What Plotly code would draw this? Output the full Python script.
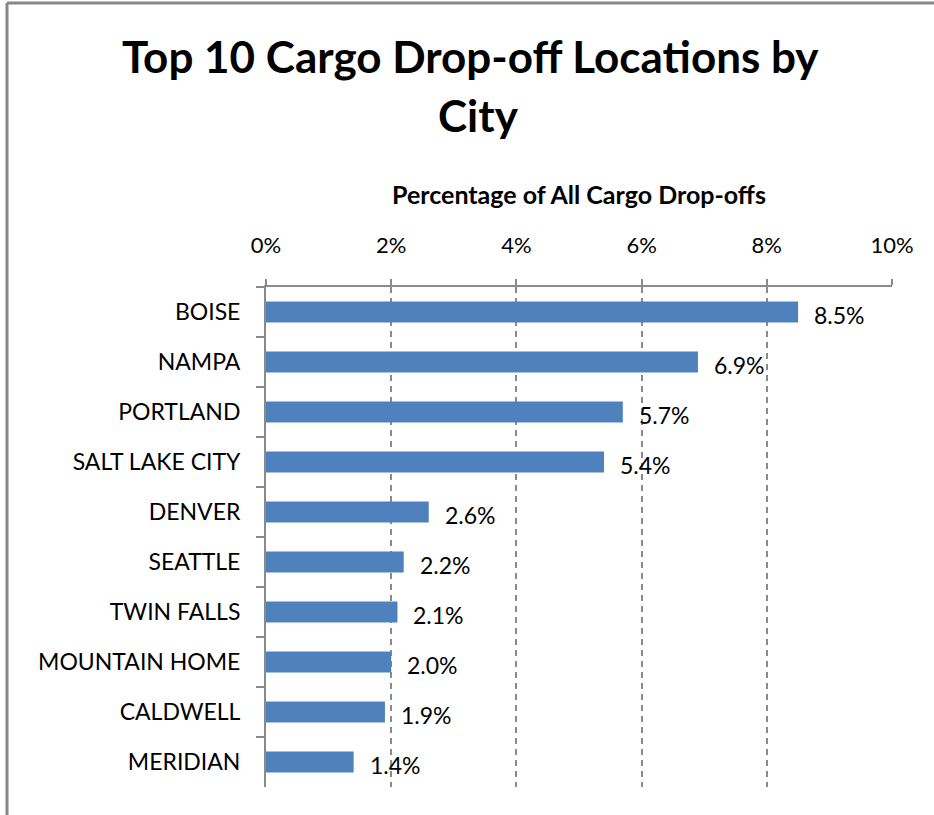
import plotly.graph_objects as go

cities = ["BOISE", "NAMPA", "PORTLAND", "SALT LAKE CITY", "DENVER", "SEATTLE",
          "TWIN FALLS", "MOUNTAIN HOME", "CALDWELL", "MERIDIAN"]
shares = [8.5, 6.9, 5.7, 5.4, 2.6, 2.2, 2.1, 2.0, 1.9, 1.4]
labels = ["8.5%", "6.9%", "5.7%", "5.4%", "2.6%", "2.2%", "2.1%", "2.0%", "1.9%", "1.4%"]
tick_vals = [0, 2, 4, 6, 8, 10]
tick_text = ["0%", "2%", "4%", "6%", "8%", "10%"]
title_lines = ["Top 10 Cargo Drop-off Locations by", "City"]
axis_title = "Percentage of All Cargo Drop-offs"

FONT = "Lato"
W, H = 934, 815
L, R, T, B = 266, 42, 287, 28
pw, ph = W - L - R, H - T - B

def px_x(p):
    return (p - L) / pw

def px_y(p):
    return (H - B - p) / ph

fig = go.Figure(go.Bar(
    x=shares, y=cities, orientation="h",
    marker=dict(color="#4F81BD", line=dict(width=0)),
    hoverinfo="skip",
))

for c, v, t in zip(cities, shares, labels):
    fig.add_annotation(x=v, y=c, text=t, showarrow=False, xanchor="left",
                       xshift=14, yshift=-3,
                       font=dict(family=FONT, size=23, color="#000"))

# axis title
fig.add_annotation(xref="paper", yref="paper", x=0.5, y=px_y(194),
                   text="<b>" + axis_title + "</b>", showarrow=False,
                   xanchor="center", yanchor="middle",
                   font=dict(family=FONT, size=25, color="#000"))

# chart title (two lines)
for txt, cy, cx in zip(title_lines, [56, 115], [470, 478]):
    fig.add_annotation(xref="paper", yref="paper", x=px_x(cx), y=px_y(cy),
                       text="<b>" + txt + "</b>", showarrow=False,
                       xanchor="center", yanchor="middle",
                       font=dict(family=FONT, size=44, color="#000"))

# chart border (top and left)
fig.add_shape(type="line", xref="paper", yref="paper",
              x0=px_x(7), x1=px_x(940), y0=px_y(3), y1=px_y(3),
              line=dict(color="#878787", width=3))
fig.add_shape(type="line", xref="paper", yref="paper",
              x0=px_x(7), x1=px_x(7), y0=px_y(3), y1=px_y(820),
              line=dict(color="#878787", width=3))

fig.update_layout(
    width=W, height=H,
    margin=dict(l=L, r=R, t=T, b=B),
    paper_bgcolor="white", plot_bgcolor="white",
    showlegend=False,
    bargap=0.58,
    font=dict(family=FONT, size=23, color="#000"),
)

fig.update_xaxes(
    side="top", range=[0, 10], tickvals=tick_vals, ticktext=tick_text,
    showgrid=True, gridcolor="#8a8a8a", gridwidth=2, griddash="6px,5px",
    zeroline=False, showline=True, linecolor="#8a8a8a", linewidth=2,
    ticks="outside", ticklen=6, tickcolor="#8a8a8a", tickwidth=2,
    ticklabelstandoff=17,
    tickfont=dict(family=FONT, size=22, color="#000"),
)
fig.update_yaxes(
    autorange="reversed", showgrid=False, zeroline=False,
    showline=True, linecolor="#8a8a8a", linewidth=2,
    ticks="outside", tickson="boundaries", ticklen=8, tickcolor="#8a8a8a", tickwidth=2,
    ticklabelstandoff=19,
    tickfont=dict(family=FONT, size=23, color="#000"),
)

fig.write_html("out.html", config={"displayModeBar": False},
               post_script="document.body.style.margin='0';")
